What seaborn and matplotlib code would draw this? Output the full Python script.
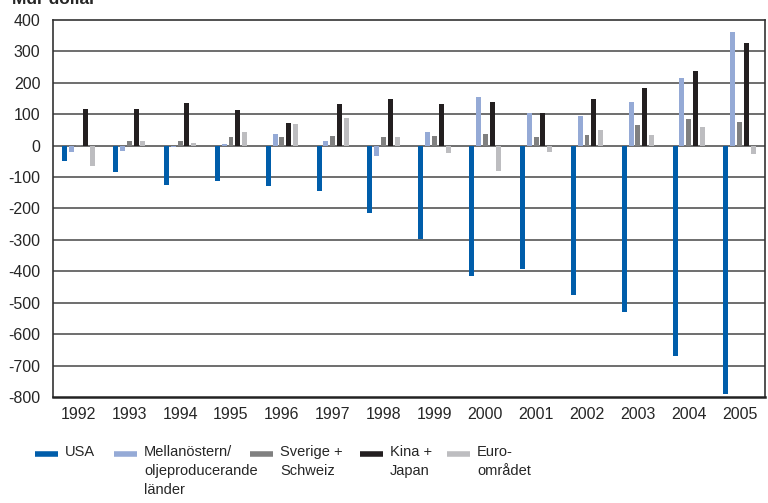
import numpy as np
import pandas as pd
import matplotlib
matplotlib.use('Agg')
import matplotlib.pyplot as plt
from matplotlib.lines import Line2D
from matplotlib import font_manager
import seaborn as sns

# ── Data (Mdr dollar) ─────────────────────────────────────────────────────────
years = ['1992', '1993', '1994', '1995', '1996', '1997', '1998',
         '1999', '2000', '2001', '2002', '2003', '2004', '2005']
series = ['USA', 'Mellanöstern/\noljeproducerande\nländer', 'Sverige +\nSchweiz',
          'Kina +\nJapan', 'Euro-\nområdet']
usa     = [-50, -85, -124, -114, -128, -143, -213, -298, -415, -391, -474, -528, -668, -792]
mellan  = [-21, -18, -5, 6, 38, 16, -34, 45, 156, 105, 93, 140, 214, 361]
sverige = [3, 14, 16, 26, 26, 32, 29, 32, 38, 29, 35, 67, 86, 74]
kina    = [118, 118, 137, 112, 73, 134, 150, 134, 140, 105, 147, 182, 239, 326]
euro    = [-64, 16, 10, 45, 70, 89, 29, -24, -82, -21, 51, 35, 61, -28]
colors  = ['#005DAA', '#95AAD6', '#808080', '#231F20', '#BDBDC0']

rows = []
for name, vals in zip(series, [usa, mellan, sverige, kina, euro]):
    for yr, v in zip(years, vals):
        rows.append({'year': yr, 'series': name, 'value': v})
df = pd.DataFrame(rows)

# ── Plot ──────────────────────────────────────────────────────────────────────
sns.set_style('white')
installed = {f.name for f in font_manager.fontManager.ttflist}
narrow = [n for n in ['Liberation Sans Narrow', 'DejaVu Sans Condensed'] if n in installed]
plt.rcParams['font.family'] = narrow + ['Liberation Sans', 'DejaVu Sans']
plt.rcParams['axes.unicode_minus'] = False
leg_fs = 11.5 if narrow else 10.5

W, H = 768, 503
fig = plt.figure(figsize=(W/100, H/100), dpi=100)
ax = fig.add_axes([53/W, 106/H, 712/W, 377/H])

for y in range(-700, 400, 100):
    ax.axhline(y, color='#555555', lw=1.2, zorder=0)

sns.barplot(data=df, x='year', y='value', hue='series', palette=colors,
            saturation=1, width=0.67, gap=0.27, linewidth=0,
            legend=False, ax=ax, zorder=2)

ax.set_ylim(-800, 400)
ax.set_xlim(-0.5, len(years) - 0.5)
ax.set_yticks(range(-800, 401, 100))
ax.set_xlabel('')
ax.set_ylabel('')
ax.tick_params(axis='y', length=0, labelsize=11.5, pad=9)
ax.tick_params(axis='x', length=0, labelsize=11.5, pad=7)
ax.set_xticks(np.arange(0.5, len(years) - 1, 1), minor=True)
ax.tick_params(axis='x', which='minor', direction='in', length=8,
               width=1.5, color='#888888')

for s in ['left', 'right', 'top']:
    ax.spines[s].set_color('#333333')
    ax.spines[s].set_linewidth(1.2)
ax.spines['bottom'].set_color('#222222')
ax.spines['bottom'].set_linewidth(1.8)

fig.text(12/W, 1.0, 'Mdr dollar', fontsize=12.5, fontweight='bold',
         ha='left', va='center')

# ── Legend (handles aligned with first text line) ────────────────────────────
hx = [35, 114, 250, 360, 447]
for x0, c, lab in zip(hx, colors, series):
    fig.add_artist(Line2D([x0/W, (x0 + 23)/W], [1 - 454/H, 1 - 454/H],
                          transform=fig.transFigure, color=c, lw=4,
                          solid_capstyle='butt'))
    fig.text((x0 + 30)/W, 1 - 445/H, lab, fontsize=leg_fs, ha='left', va='top',
             linespacing=1.45)

plt.savefig('out.png', dpi=100)
plt.close()
